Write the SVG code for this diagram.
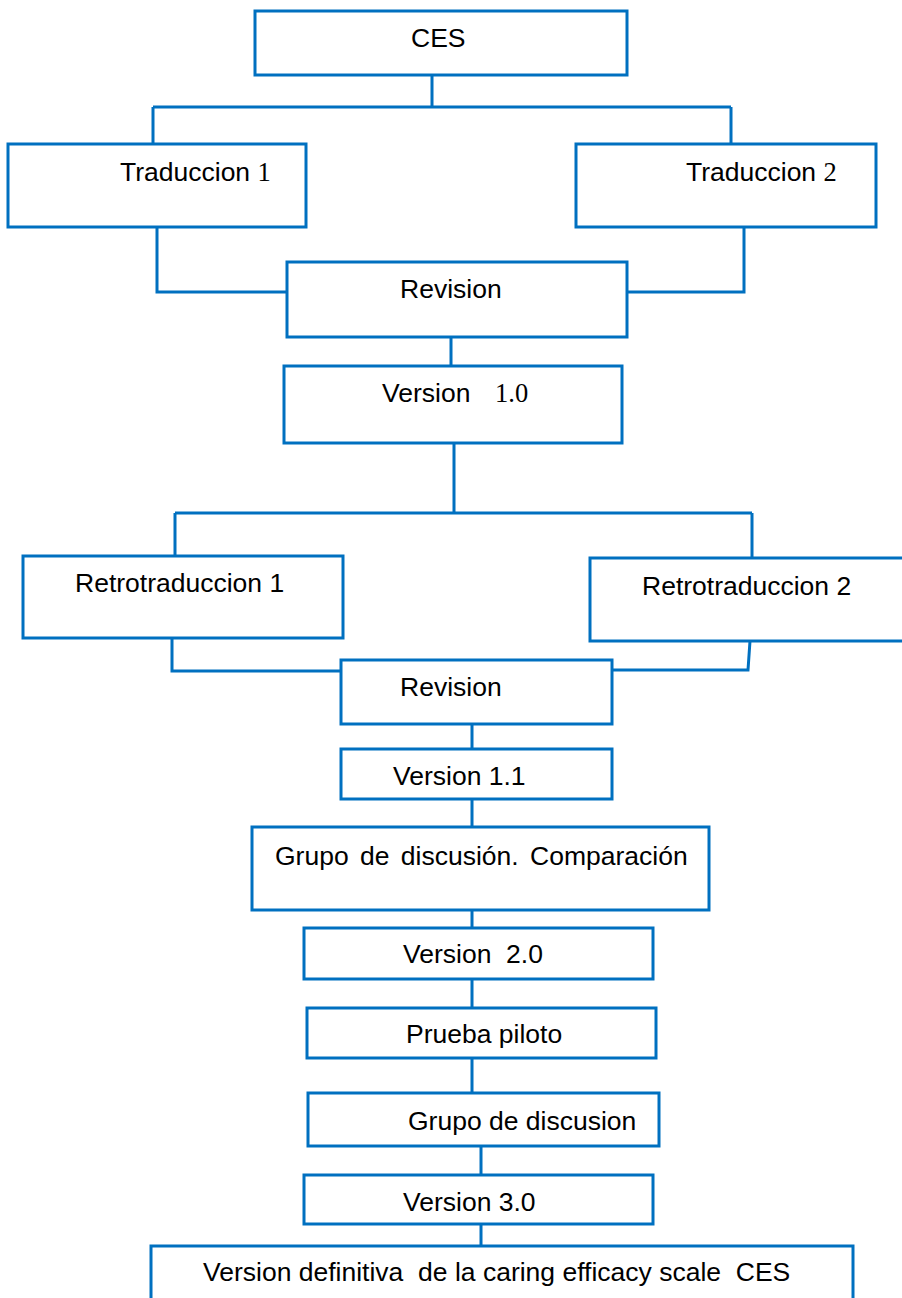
<svg xmlns="http://www.w3.org/2000/svg" width="902" height="1298" viewBox="0 0 902 1298">
<style>
.box{fill:#fff;stroke:#0070C0;stroke-width:3}
.ln{fill:none;stroke:#0070C0;stroke-width:3}
.t{font-family:"Liberation Sans",Arial,sans-serif;font-size:26.5px;fill:#000}
.s{font-family:"Liberation Serif","Times New Roman",serif}
</style>
<rect width="902" height="1298" fill="#fff"/>
<g id="connectors">
<path class="ln" d="M432 75V107M153 107H731M153 107V144M731 107V144"/>
<path class="ln" d="M157 227V292H287M744 227V292H627"/>
<path class="ln" d="M451 337V366M454 443V513M175 513H752M175 513V556M752 513V558"/>
<path class="ln" d="M172 638V671H341M750 641L748 670H612"/>
<path class="ln" d="M472 724V749M472 799V827M472 910V928M472 979V1008M472 1058V1093M481 1146V1175M481 1224V1246"/>
</g>
<g id="ces"><rect class="box" x="255" y="11" width="372" height="64"/><text class="t" x="411" y="47">CES</text></g>
<g id="trad1"><rect class="box" x="8" y="144" width="298" height="83"/><text class="t" x="120" y="181">Traduccion <tspan class="s">1</tspan></text></g>
<g id="trad2"><rect class="box" x="576" y="144" width="300" height="83"/><text class="t" x="686" y="181">Traduccion <tspan class="s">2</tspan></text></g>
<g id="revision1"><rect class="box" x="287" y="262" width="340" height="75"/><text class="t" x="400" y="298">Revision</text></g>
<g id="version10"><rect class="box" x="284" y="366" width="338" height="77"/><text class="t" x="382" y="402">Version <tspan class="s" x="495">1.0</tspan></text></g>
<g id="retro1"><rect class="box" x="23" y="556" width="320" height="82"/><text class="t" x="75" y="592">Retrotraduccion 1</text></g>
<g id="retro2"><rect class="box" x="590" y="558" width="330" height="83"/><text class="t" x="642" y="595">Retrotraduccion 2</text></g>
<g id="revision2"><rect class="box" x="341" y="660" width="271" height="64"/><text class="t" x="400" y="696">Revision</text></g>
<g id="version11"><rect class="box" x="341" y="749" width="271" height="50"/><text class="t" x="393" y="785">Version 1.1</text></g>
<g id="grupo1"><rect class="box" x="252" y="827" width="457" height="83"/><text class="t" x="275" y="865" word-spacing="4">Grupo de discusión. Comparación</text></g>
<g id="version20"><rect class="box" x="304" y="928" width="349" height="51"/><text class="t" x="403" y="963" xml:space="preserve">Version  2.0</text></g>
<g id="prueba"><rect class="box" x="307" y="1008" width="349" height="50"/><text class="t" x="406" y="1043">Prueba piloto</text></g>
<g id="grupo2"><rect class="box" x="308" y="1093" width="351" height="53"/><text class="t" x="408" y="1130">Grupo de discusion</text></g>
<g id="version30"><rect class="box" x="304" y="1175" width="349" height="49"/><text class="t" x="403" y="1211">Version 3.0</text></g>
<g id="final"><rect class="box" x="151" y="1246" width="702" height="70"/><text class="t" x="203" y="1281" xml:space="preserve">Version definitiva  de la caring efficacy scale  CES</text></g>
</svg>
